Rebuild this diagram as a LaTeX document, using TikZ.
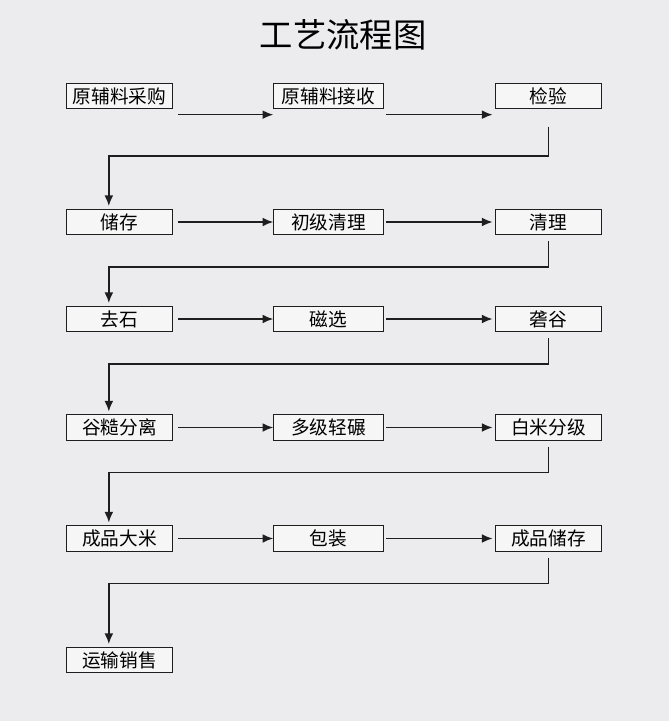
\documentclass[tikz,border=0pt]{standalone}
\usepackage{fontspec}
\newfontfamily\cjk{Noto Sans CJK SC}
\usetikzlibrary{arrows.meta}
\definecolor{paper}{HTML}{ECECEE}
\definecolor{ink}{HTML}{1E1E1E}
\tikzset{
  stage/.style={draw=ink, line width=0.9pt, fill=white!55!paper, minimum width=79pt, minimum height=19pt, inner sep=0pt, font=\cjk\fontsize{14}{14}\selectfont},
  mid/.style={stage, minimum width=82pt},
  flow/.style={-{Latex[length=2.8mm,width=2.3mm]}, ink, line width=1.1pt},
  back/.style={flow, shorten >=2pt},
}
\begin{document}
\begin{tikzpicture}[x=0.75pt,y=-0.75pt]
  \fill[paper] (0,0) rectangle (669,721);
  \node[font=\cjk\fontsize{25}{25}\selectfont] (title) at (343,35) {工艺流程图};
  % row 1
  \node[stage] (buy)  at (119.5,96) {原辅料采购};
  \node[mid]   (recv) at (328.5,96) {原辅料接收};
  \node[stage] (chk)  at (548.5,96) {检验};
  % row 2
  \node[stage] (sto)  at (119.5,222) {储存};
  \node[mid]   (pre)  at (328.5,222) {初级清理};
  \node[stage] (cln)  at (548.5,222) {清理};
  % row 3
  \node[stage] (stn)  at (119.5,319) {去石};
  \node[mid]   (mag)  at (328.5,319) {磁选};
  \node[stage] (hul)  at (548.5,319) {砻谷};
  % row 4
  \node[stage] (sep)  at (119.5,427.5) {谷糙分离};
  \node[mid]   (mill) at (328.5,427.5) {多级轻碾};
  \node[stage] (grd)  at (548.5,427.5) {白米分级};
  % row 5
  \node[stage] (rice) at (119.5,538.5) {成品大米};
  \node[mid]   (pack) at (328.5,538.5) {包装};
  \node[stage] (wh)   at (548.5,538.5) {成品储存};
  % row 6
  \node[stage] (sale) at (119.5,660) {运输销售};

  \draw[flow, shorten <=4pt] ([yshift=-14pt]buy.east) -- ([yshift=-14pt]recv.west);
  \draw[flow, shorten <=2pt, shorten >=2pt] ([yshift=-14pt]recv.east) -- ([yshift=-14pt]chk.west);
  \foreach \a/\b/\c in {sto/pre/cln, stn/mag/hul, sep/mill/grd, rice/pack/wh} {
    \draw[flow, shorten <=4pt] (\a.east) -- (\b.west);
    \draw[flow, shorten <=2pt, shorten >=2pt] (\b.east) -- (\c.west);
  }

  \draw[back, shorten <=13pt] (chk.south) -- ++(0,46.5) -| ([xshift=-8pt]sto.north);
  \foreach \c/\n in {cln/stn, hul/sep, grd/rice, wh/sale}
    \draw[back, shorten <=4.5pt] (\c.south) -- ++(0,31.5) -| ([xshift=-8pt]\n.north);
\end{tikzpicture}
\end{document}
